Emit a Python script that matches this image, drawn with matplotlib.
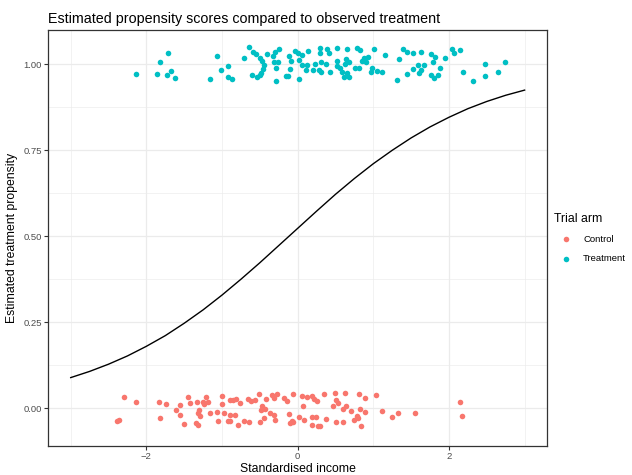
import numpy as np
import matplotlib
matplotlib.use("Agg")
import matplotlib.pyplot as plt

plt.rcParams["font.family"] = ["Liberation Sans", "DejaVu Sans"]

# observed treatment arm (jittered around 1)
treat_x = [-2.133, -1.853, -1.823, -1.711, -1.733, -1.671, -1.627, -1.164, -1.071, -1.017,
           -0.92, -0.924, -0.863, -0.703, -0.649, -0.596, -0.547, -0.604, -0.543, -0.497,
           -0.471, -0.449, -0.457, -0.48, -0.497, -0.4, -0.329, -0.297, -0.253, -0.311,
           -0.257, -0.28, -0.289, -0.16, -0.124, -0.111, -0.089, -0.107, -0.036, 0.009,
           0.053, 0.023, 0.023, 0.053, 0.143, 0.124, 0.107, 0.223, 0.209, 0.293,
           0.293, 0.311, 0.284, 0.311, 0.387, 0.409, 0.373, 0.427, 0.524, 0.653,
           0.783, 0.827, 0.524, 0.64, 0.676, 0.631, 0.516, 0.56, 0.587, 0.649,
           0.684, 0.609, 0.764, 0.809, 0.853, 0.88, 0.933, 0.897, 0.964, 0.977,
           1.049, 1.12, 1.013, 1.151, 1.343, 1.307, 1.391, 1.449, 1.524, 1.627,
           1.756, 1.587, 1.676, 1.52, 1.631, 1.6, 1.449, 1.76, 1.809, 1.787,
           1.947, 2.044, 2.063, 2.14, 1.884, 1.857, 1.8, 2.187, 2.324, 2.471,
           2.476, 2.649, 2.737]
treat_y = [0.972, 0.972, 1.007, 1.032, 0.969, 0.980, 0.959, 0.958, 1.023, 0.984,
           0.996, 0.963, 0.957, 1.017, 1.049, 1.035, 1.031, 0.969, 0.962, 1.017,
           1.010, 0.998, 0.986, 0.976, 0.969, 1.029, 1.025, 1.035, 1.044, 1.006,
           1.006, 0.990, 0.952, 0.967, 0.966, 1.025, 1.011, 0.986, 1.038, 1.032,
           1.027, 1.012, 0.958, 0.998, 1.039, 0.998, 0.984, 1.002, 0.983, 1.047,
           1.032, 1.006, 0.984, 0.979, 1.045, 1.032, 1.000, 0.979, 1.047, 1.045,
           1.048, 1.043, 1.010, 1.015, 1.008, 1.000, 0.994, 0.988, 0.977, 0.976,
           0.963, 0.962, 0.990, 0.990, 1.010, 1.019, 1.021, 1.008, 0.979, 0.988,
           0.982, 0.979, 1.044, 1.028, 1.014, 0.954, 1.045, 1.035, 1.033, 1.035,
           1.029, 0.998, 0.998, 0.986, 0.983, 0.975, 0.972, 0.969, 1.020, 1.008,
           1.017, 1.044, 1.032, 1.041, 0.990, 0.970, 0.961, 0.979, 0.952, 1.002,
           0.965, 0.979, 1.006]

# control arm (jittered around 0)
ctrl_x = [-2.293, -2.137, -2.356, -2.383, -1.836, -1.747, -1.823, -1.604, -1.556, -1.556,
          -1.503, -1.449, -1.423, -1.333, -1.307, -1.316, -1.289, -1.343, -1.324, -1.257,
          -1.213, -1.191, -1.236, -1.156, -1.067, -1.057, -1.004, -1.0, -0.977, -0.916,
          -0.889, -0.857, -0.813, -0.76, -0.657, -0.613, -0.569, -0.511, -0.413, -0.337,
          -0.271, -0.311, -0.177, -0.147, -0.057, 0.057, 0.12, 0.183, 0.217, 0.253,
          0.343, -0.476, -0.436, -0.489, 0.076, -0.893, -0.823, -0.893, -0.787, -0.703,
          -0.644, -0.503, -0.449, -0.369, -0.311, -0.303, -0.111, -0.08, -0.103, 0.017,
          0.084, 0.191, 0.236, 0.187, 0.267, 0.369, 0.487, 0.623, 0.817, 0.884,
          1.033, 0.509, 0.533, 0.473, 0.596, 0.633, 0.703, 0.82, 0.884, 1.12,
          1.253, 1.32, 1.551, 2.147, 2.173, 0.509, 0.604, 0.747, 0.78, 0.8,
          0.843, 0.293, -0.057]
ctrl_y = [0.033, 0.019, -0.033, -0.037, 0.017, 0.011, -0.029, -0.004, 0.008, -0.021,
          -0.047, 0.033, 0.014, 0.019, -0.004, -0.014, -0.023, -0.044, -0.050, 0.019,
          0.033, 0.017, 0.011, -0.015, -0.012, -0.038, 0.035, 0.011, -0.015, -0.038,
          0.023, 0.025, 0.027, 0.014, 0.028, 0.021, 0.023, 0.042, 0.027, 0.038,
          0.042, 0.030, 0.030, 0.020, 0.040, 0.035, 0.032, 0.035, 0.027, 0.020,
          0.042, 0.006, -0.002, -0.004, 0.006, -0.021, -0.021, -0.038, -0.050, -0.037,
          -0.040, -0.040, -0.028, -0.014, -0.019, -0.035, -0.016, -0.038, -0.044, -0.026,
          -0.035, -0.027, -0.026, -0.050, -0.052, -0.031, 0.044, 0.045, 0.040, 0.031,
          0.039, 0.024, 0.015, 0.006, -0.001, 0.006, -0.007, -0.001, -0.011, -0.007,
          -0.025, -0.014, -0.014, 0.019, -0.023, -0.041, -0.041, -0.035, -0.024, -0.028,
          -0.051, -0.051, -0.041]

# estimated propensity curve
curve_x = [-3.0, -2.75, -2.5, -2.25, -2.0, -1.75, -1.5, -1.25, -1.0, -0.75, -0.5, -0.25, 0.0,
           0.25, 0.5, 0.75, 1.0, 1.25, 1.5, 1.75, 2.0, 2.25, 2.5, 2.75, 3.0]
curve_y = [0.089, 0.107, 0.128, 0.152, 0.180, 0.211, 0.247, 0.286, 0.329, 0.375, 0.423, 0.473, 0.523,
           0.573, 0.622, 0.668, 0.711, 0.750, 0.786, 0.818, 0.846, 0.871, 0.892, 0.910, 0.925]

fig = plt.figure(figsize=(6.32, 4.75), dpi=100)
ax = fig.add_axes([0.076, 0.061, 0.79, 0.876])

ax.scatter(ctrl_x, ctrl_y, s=16, color="#F8766D", linewidths=0, label="Control", zorder=3)
ax.scatter(treat_x, treat_y, s=16, color="#00BFC4", linewidths=0, label="Treatment", zorder=3)
ax.plot(curve_x, curve_y, color="black", lw=1.0, zorder=4)

ax.set_xlim(-3.3, 3.3)
ax.set_ylim(-0.11, 1.1)
ax.set_xticks([-2, 0, 2])
ax.set_xticks([-3, -1, 1, 3], minor=True)
ax.set_yticks([0, 0.25, 0.5, 0.75, 1.0])
ax.set_yticklabels(["0.00", "0.25", "0.50", "0.75", "1.00"])
ax.set_yticks([0.125, 0.375, 0.625, 0.875], minor=True)
ax.set_xticklabels(["\u22122", "0", "2"])
ax.grid(True, which="major", color="#EBEBEB", lw=0.9)
ax.grid(True, which="minor", color="#EBEBEB", lw=0.45)
ax.set_axisbelow(True)
for s in ax.spines.values():
    s.set_color("#333333")
    s.set_linewidth(0.9)
ax.tick_params(which="major", length=3, color="#333333", labelsize=6.8, labelcolor="#4D4D4D", pad=1.5)
ax.tick_params(which="minor", length=0)

ax.set_xlabel("Standardised income", fontsize=8.8, labelpad=1)
ax.set_ylabel("Estimated treatment propensity", fontsize=8.8, labelpad=4)
ax.set_title("Estimated propensity scores compared to observed treatment", fontsize=10.3, loc="left", pad=5)

leg = ax.legend(title="Trial arm", loc="center left", bbox_to_anchor=(0.996, 0.5), frameon=False,
                fontsize=6.8, title_fontsize=8.8, markerscale=1.0, handletextpad=0.5,
                labelspacing=1.1, handlelength=2.6)
leg._legend_box.align = "left"

fig.savefig("out.png", dpi=100)
